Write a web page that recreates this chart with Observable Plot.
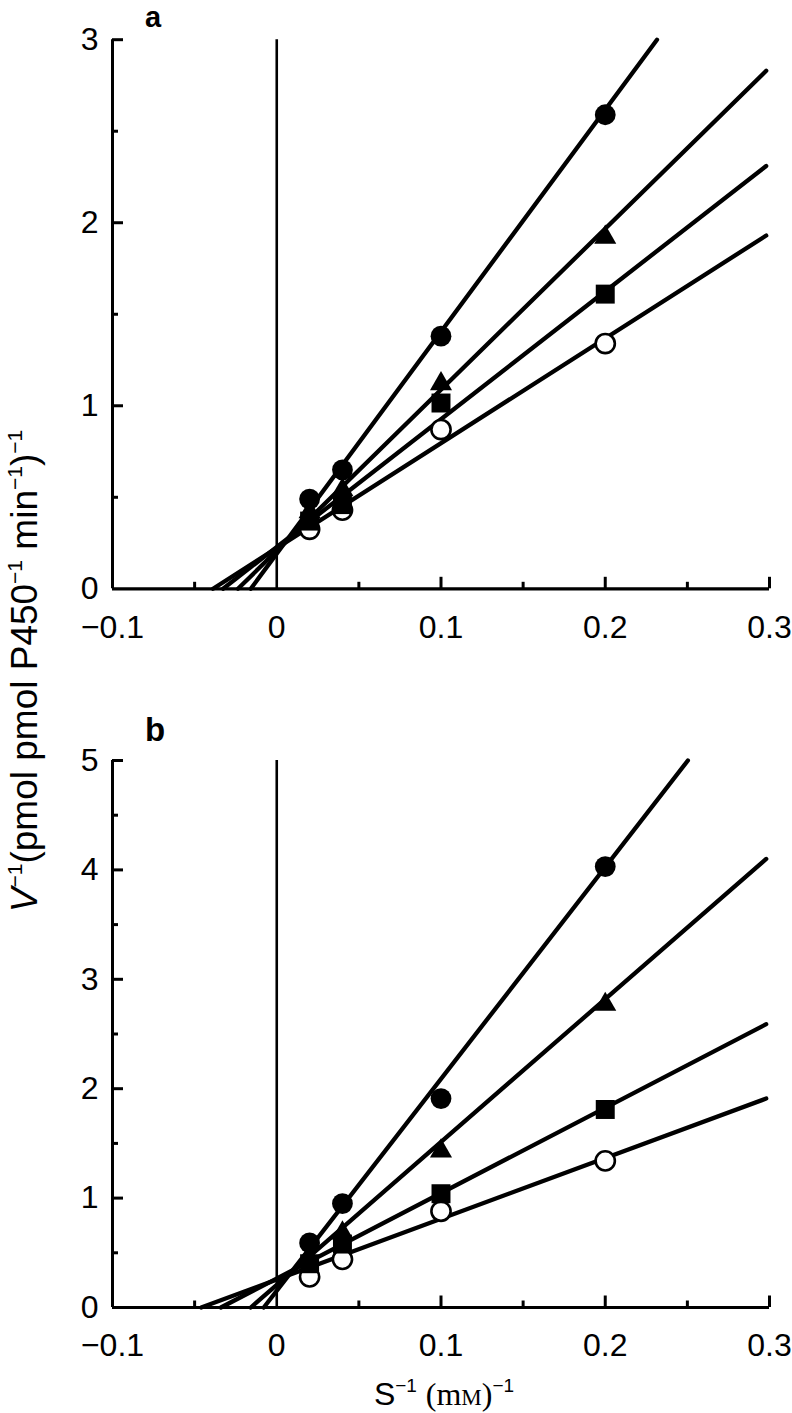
<!DOCTYPE html>
<html>
<head>
<meta charset="utf-8">
<script src="https://cdn.jsdelivr.net/npm/d3@7"></script>
<script src="https://cdn.jsdelivr.net/npm/@observablehq/plot@0.6"></script>
<style>
  body { margin: 0; background: #fff; }
  #wrap { position: relative; width: 792px; height: 1413px; overflow: hidden; background: #fff; }
  .panel { position: absolute; left: 0; }
  #overlay { position: absolute; left: 0; top: 0; pointer-events: none; }
  #overlay text { font-family: "Liberation Sans", Arial, Helvetica, sans-serif; fill: #000; }
</style>
</head>
<body>
<div id="wrap">
  <div class="panel" id="pa" style="top:0px"></div>
  <div class="panel" id="pb" style="top:700px"></div>
  <svg id="overlay" width="792" height="1413">
    <text x="145" y="27" font-size="29" font-weight="bold">a</text>
    <text x="145" y="741" font-size="33" font-weight="bold">b</text>
    <text transform="translate(37,671) rotate(-90)" text-anchor="middle" font-size="37"><tspan font-style="italic">V</tspan><tspan dy="-15" font-size="21">−1</tspan><tspan dy="15">(pmol pmol P450</tspan><tspan dy="-15" font-size="21">−1</tspan><tspan dy="15"> min</tspan><tspan dy="-15" font-size="21">−1</tspan><tspan dy="15">)</tspan><tspan dy="-15" font-size="21">−1</tspan></text>
    <text x="444" y="1405" text-anchor="middle" font-size="32">S<tspan dy="-13" font-size="19">−1</tspan><tspan dy="13"> </tspan><tspan style="font-family:'Liberation Serif',serif">(m<tspan font-size="23">M</tspan>)</tspan><tspan dy="-13" font-size="19">−1</tspan></text>
  </svg>
</div>
<script>
// ---- data (S^-1 in mM^-1, V^-1 values) ----
const sInv = [0.02, 0.04, 0.1, 0.2];

// panel a
const aFilledCircle = [0.49, 0.65, 1.38, 2.59];
const aTriangle     = [0.42, 0.54, 1.12, 1.92];
const aSquare       = [0.37, 0.46, 1.015, 1.61];
const aOpenCircle   = [0.325, 0.43, 0.87, 1.34];
// fitted lines (order: filled circle, triangle, square, open circle)
const aLineStartX = [-0.0158, -0.0236, -0.0327, -0.0388];
const aLineEndX   = [0.2315, 0.298, 0.298, 0.298];
const aLineEndY   = [3, 2.83, 2.31, 1.93];

// panel b
const bFilledCircle = [0.59, 0.95, 1.91, 4.03];
const bTriangle     = [0.45, 0.68, 1.43, 2.77];
const bSquare       = [0.40, 0.58, 1.04, 1.81];
const bOpenCircle   = [0.28, 0.44, 0.88, 1.34];
const bLineStartX = [-0.0079, -0.0158, -0.034, -0.046];
const bLineEndX   = [0.2503, 0.298, 0.298, 0.298];
const bLineEndY   = [5, 4.10, 2.59, 1.91];

// axes
const xTicks = [-0.1, 0, 0.1, 0.2, 0.3];
const xTickLabels = ["−0.1", "0", "0.1", "0.2", "0.3"];
const xMajorTickMarks = [0.1, 0.2, 0.3];
const xMinorTickMarks = [-0.05, 0.05, 0.15, 0.25];
const aYTicks = [0, 1, 2, 3];
const aYTickLabels = ["0", "1", "2", "3"];
const aYMinor = [0.5, 1.5, 2.5];
const bYTicks = [0, 1, 2, 3, 4, 5];
const bYTickLabels = ["0", "1", "2", "3", "4", "5"];
const bYMinor = [0.5, 1.5, 2.5, 3.5, 4.5];

function toPoints(values) {
  return values.map((v, i) => ({x: sInv[i], y: v}));
}
function toLines(sx, ex, ey) {
  return sx.map((s, i) => ({x1: s, y1: 0, x2: ex[i], y2: ey[i]}));
}

function panel(cfg) {
  const {yMax, yTicks, yTickLabels, yMinor, filled, tri, sq, open, lines, height, marginTop, marginBottom} = cfg;
  return Plot.plot({
    width: 792,
    height,
    marginLeft: 112,
    marginRight: 23,
    marginTop,
    marginBottom,
    x: {domain: [-0.1, 0.3], label: null},
    y: {domain: [0, yMax], label: null},
    style: {fontFamily: "'Liberation Sans', Arial, Helvetica, sans-serif", background: "transparent", overflow: "visible", color: "black"},
    marks: [
      // axis tick labels
      Plot.axisX({ticks: xTicks, tickSize: 0, tickPadding: 26, fontSize: 32, label: null,
        tickFormat: d => xTickLabels[xTicks.indexOf(d)]}),
      Plot.axisY({ticks: yTicks, tickSize: 0, tickPadding: 14, fontSize: 32, label: null,
        tickFormat: d => yTickLabels[yTicks.indexOf(d)]}),
      // inward ticks
      Plot.axisX({ticks: xMajorTickMarks, tickSize: 11.5, dy: -11.5, text: null, label: null, strokeWidth: 3}),
      Plot.axisX({ticks: xMinorTickMarks, tickSize: 6.5, dy: -6.5, text: null, label: null, strokeWidth: 3}),
      Plot.axisY({ticks: yTicks.filter(d => d !== 0), tickSize: 11, dx: 11, text: null, label: null, strokeWidth: 3}),
      Plot.axisY({ticks: yMinor, tickSize: 6, dx: 6, text: null, label: null, strokeWidth: 3}),
      // frame lines
      Plot.ruleX([-0.1], {stroke: "black", strokeWidth: 3}),
      Plot.ruleY([0], {stroke: "black", strokeWidth: 3.2}),
      Plot.ruleX([0], {stroke: "black", strokeWidth: 2.6}),
      // regression lines
      Plot.link(lines, {x1: "x1", y1: "y1", x2: "x2", y2: "y2", stroke: "black", strokeWidth: 4.3, strokeLinecap: "round"}),
      // points
      Plot.dot(open, {x: "x", y: "y", r: 9.6, fill: "white", stroke: "black", strokeWidth: 2.6}),
      Plot.dot(sq, {x: "x", y: "y", symbol: "square", r: 10.7, fill: "black", stroke: "none"}),
      Plot.dot(tri, {x: "x", y: "y", symbol: "triangle", r: 8.2, fill: "black", stroke: "none"}),
      Plot.dot(filled, {x: "x", y: "y", r: 10.4, fill: "black", stroke: "none"})
    ]
  });
}

document.getElementById("pa").append(panel({
  yMax: 3, yTicks: aYTicks, yTickLabels: aYTickLabels, yMinor: aYMinor,
  filled: toPoints(aFilledCircle), tri: toPoints(aTriangle), sq: toPoints(aSquare), open: toPoints(aOpenCircle),
  lines: toLines(aLineStartX, aLineEndX, aLineEndY),
  height: 700, marginTop: 39.2, marginBottom: 111.7
}));

document.getElementById("pb").append(panel({
  yMax: 5, yTicks: bYTicks, yTickLabels: bYTickLabels, yMinor: bYMinor,
  filled: toPoints(bFilledCircle), tri: toPoints(bTriangle), sq: toPoints(bSquare), open: toPoints(bOpenCircle),
  lines: toLines(bLineStartX, bLineEndX, bLineEndY),
  height: 713, marginTop: 60, marginBottom: 106
}));
</script>
</body>
</html>
